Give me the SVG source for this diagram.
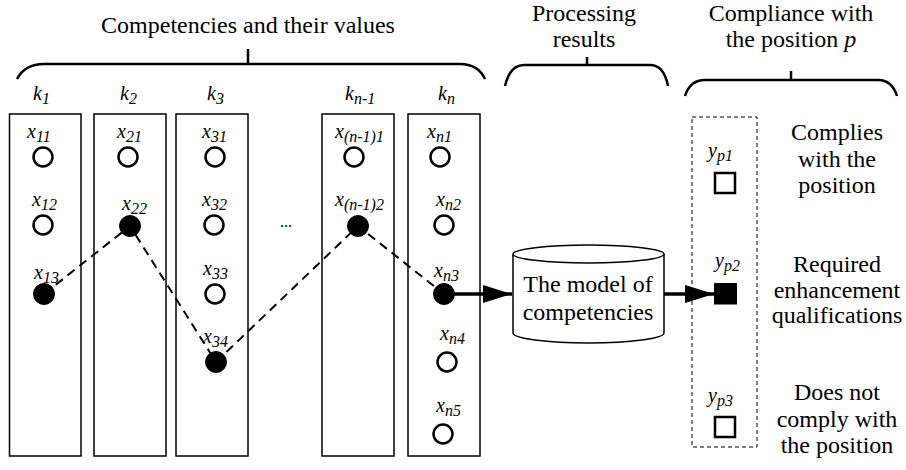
<svg xmlns="http://www.w3.org/2000/svg" width="906" height="470" viewBox="0 0 906 470">
  <style>
    text { font-family: "Liberation Serif", "Times New Roman", serif; fill: #000; }
    .t { font-size: 24px; }
    .m { font-style: italic; font-size: 20px; }
    .s { font-size: 16px; }
    .col { fill: #fff; stroke: #000; stroke-width: 1.5; }
    .brace { fill: none; stroke: #000; stroke-width: 2.5; }
    .v { fill: #fff; stroke: #000; stroke-width: 2.5; }
    .vf { fill: #000; stroke: #000; stroke-width: 1; }
    .sq { fill: #fff; stroke: #000; stroke-width: 2.5; }
    .path { fill: none; stroke: #000; stroke-width: 2; stroke-dasharray: 9 6; }
    .arrow { fill: none; stroke: #000; stroke-width: 3.5; }
  </style>
  <defs>
    <marker id="head" markerWidth="30" markerHeight="18" refX="29" refY="9" orient="auto" markerUnits="userSpaceOnUse">
      <path d="M0,0 L29,9 L0,18 Z" fill="#000"/>
    </marker>
  </defs>
  <rect width="906" height="470" fill="#fff"/>

  <!-- headings with braces -->
  <g id="heading-competencies">
    <text class="t" x="248" y="33" text-anchor="middle">Competencies and their values</text>
    <path class="brace" d="M17,79 Q25,64 44,64 L460,64 Q478,64 485,79"/>
    <path class="brace" d="M248,49 V64"/>
  </g>
  <g id="heading-processing">
    <text class="t" x="584" y="21" text-anchor="middle">Processing</text>
    <text class="t" x="584" y="47" text-anchor="middle">results</text>
    <path class="brace" d="M505,86 Q510,65 524,65 L650,65 Q664,65 668,86"/>
    <path class="brace" d="M587,57 V65"/>
  </g>
  <g id="heading-compliance">
    <text class="t" x="791" y="21" text-anchor="middle">Compliance with</text>
    <text class="t" x="791" y="47" text-anchor="middle">the position <tspan font-style="italic">p</tspan></text>
    <path class="brace" d="M685,96 Q690,80 705,80 L878,80 Q892,80 897,96"/>
    <path class="brace" d="M791,71 V80"/>
  </g>

  <!-- competency columns -->
  <g id="col-k1">
    <text class="m" x="33" y="100">k<tspan class="s" dy="4">1</tspan></text>
    <rect class="col" x="9.5" y="114" width="71.5" height="342"/>
    <text class="m" x="27" y="138">x<tspan class="s" dy="4">11</tspan></text>
    <circle class="v" cx="43" cy="157" r="9.5"/>
    <text class="m" x="32" y="206">x<tspan class="s" dy="4">12</tspan></text>
    <circle class="v" cx="43" cy="225" r="9.5"/>
    <text class="m" x="34" y="279">x<tspan class="s" dy="4">13</tspan></text>
    <circle class="vf" cx="44" cy="294" r="10.5"/>
  </g>
  <g id="col-k2">
    <text class="m" x="120" y="100">k<tspan class="s" dy="4">2</tspan></text>
    <rect class="col" x="94" y="114" width="72" height="342"/>
    <text class="m" x="117" y="138">x<tspan class="s" dy="4">21</tspan></text>
    <circle class="v" cx="128" cy="157" r="9.5"/>
    <text class="m" x="122" y="210">x<tspan class="s" dy="4">22</tspan></text>
    <circle class="vf" cx="130" cy="226" r="10.5"/>
  </g>
  <g id="col-k3">
    <text class="m" x="207" y="100">k<tspan class="s" dy="4">3</tspan></text>
    <rect class="col" x="176" y="114" width="72" height="342"/>
    <text class="m" x="202" y="138">x<tspan class="s" dy="4">31</tspan></text>
    <circle class="v" cx="215" cy="157" r="9.5"/>
    <text class="m" x="202" y="206">x<tspan class="s" dy="4">32</tspan></text>
    <circle class="v" cx="214" cy="225" r="9.5"/>
    <text class="m" x="203" y="275">x<tspan class="s" dy="4">33</tspan></text>
    <circle class="v" cx="215" cy="294" r="9.5"/>
    <text class="m" x="203" y="343">x<tspan class="s" dy="4">34</tspan></text>
    <circle class="vf" cx="216" cy="362" r="10.5"/>
  </g>
  <g id="ellipsis">
    <text x="286" y="227" text-anchor="middle" font-size="16">...</text>
  </g>
  <g id="col-kn-1">
    <text class="m" x="345" y="100">k<tspan class="s" dy="4">n-1</tspan></text>
    <rect class="col" x="322" y="114" width="72" height="342"/>
    <text class="m" x="335" y="138">x<tspan class="s" dy="4">(n-1)1</tspan></text>
    <circle class="v" cx="354" cy="157" r="9.5"/>
    <text class="m" x="335" y="206">x<tspan class="s" dy="4">(n-1)2</tspan></text>
    <circle class="vf" cx="358" cy="226" r="10.5"/>
  </g>
  <g id="col-kn">
    <text class="m" x="438" y="100">k<tspan class="s" dy="4">n</tspan></text>
    <rect class="col" x="408" y="114" width="72" height="342"/>
    <text class="m" x="427" y="138">x<tspan class="s" dy="4">n1</tspan></text>
    <circle class="v" cx="440" cy="157" r="9.5"/>
    <text class="m" x="436" y="206">x<tspan class="s" dy="4">n2</tspan></text>
    <circle class="v" cx="444" cy="225" r="9.5"/>
    <text class="m" x="434" y="277">x<tspan class="s" dy="4">n3</tspan></text>
    <circle class="vf" cx="444" cy="294" r="10.5"/>
    <text class="m" x="440" y="340">x<tspan class="s" dy="4">n4</tspan></text>
    <circle class="v" cx="447" cy="362" r="9.5"/>
    <text class="m" x="436" y="412">x<tspan class="s" dy="4">n5</tspan></text>
    <circle class="v" cx="443" cy="434" r="9.5"/>
  </g>

  <!-- model cylinder -->
  <g id="model">
    <path d="M513,254 V333 A75.5,10 0 0 0 664,333 V254" fill="#fff" stroke="#000" stroke-width="1.5"/>
    <ellipse cx="588.5" cy="254" rx="75.5" ry="9" fill="#fff" stroke="#000" stroke-width="1.5"/>
    <text class="t" x="588" y="292" text-anchor="middle">The model of</text>
    <text class="t" x="588" y="320" text-anchor="middle">competencies</text>
  </g>

  <!-- compliance outcomes -->
  <g id="outcomes">
    <rect x="692" y="117" width="65" height="330" fill="none" stroke="#000" stroke-width="1" stroke-dasharray="4 3"/>
  </g>
  <g id="y-p1">
    <text class="m" x="708" y="157">y<tspan class="s" dy="4">p1</tspan></text>
    <rect class="sq" x="715" y="173" width="20" height="20"/>
    <text class="t" x="837" y="140" text-anchor="middle">Complies</text>
    <text class="t" x="837" y="167" text-anchor="middle">with the</text>
    <text class="t" x="837" y="193" text-anchor="middle">position</text>
  </g>
  <g id="y-p2">
    <text class="m" x="715" y="267">y<tspan class="s" dy="4">p2</tspan></text>
    <rect x="714" y="283" width="23" height="21.5" fill="#000"/>
    <text class="t" x="837" y="272" text-anchor="middle">Required</text>
    <text class="t" x="837" y="298" text-anchor="middle">enhancement</text>
    <text class="t" x="837" y="323" text-anchor="middle">qualifications</text>
  </g>
  <g id="y-p3">
    <text class="m" x="708" y="402">y<tspan class="s" dy="4">p3</tspan></text>
    <rect class="sq" x="715" y="417" width="20" height="20"/>
    <text class="t" x="837" y="400" text-anchor="middle">Does not</text>
    <text class="t" x="837" y="427" text-anchor="middle">comply with</text>
    <text class="t" x="837" y="453" text-anchor="middle">the position</text>
  </g>

  <!-- connectors -->
  <g id="connectors">
    <polyline class="path" points="44,294 130,226 216,362 358,226 444,294"/>
    <line class="arrow" x1="450" y1="294" x2="512" y2="294" marker-end="url(#head)"/>
    <line class="arrow" x1="664" y1="294" x2="714" y2="294" marker-end="url(#head)"/>
  </g>
</svg>
